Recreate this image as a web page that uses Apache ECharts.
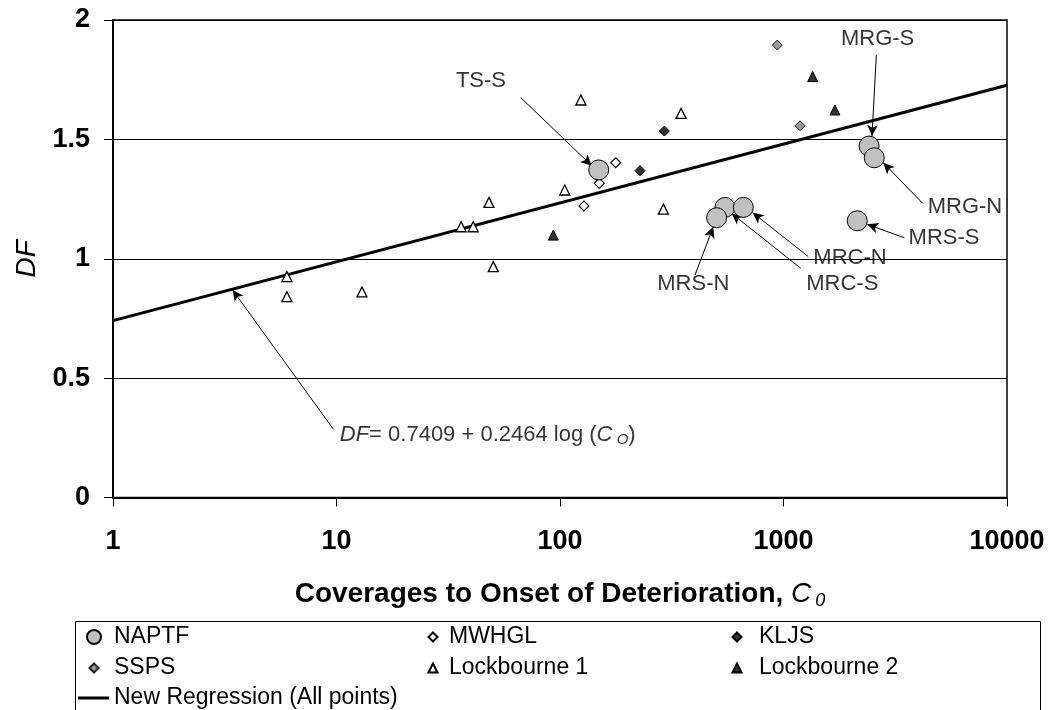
<!DOCTYPE html>
<html><head><meta charset="utf-8">
<script src="https://cdn.jsdelivr.net/npm/echarts@6/dist/echarts.min.js"></script>
<style>html,body{margin:0;padding:0;background:#fff}#c{width:1052px;height:710px}</style>
</head><body><div id="c"></div>
<script>
const FONT = '"Liberation Sans", Arial, Helvetica, sans-serif';

// ---- data ----
const xTicks = [1, 10, 100, 1000, 10000];
const yTicks = [0, 0.5, 1, 1.5, 2];

const naptfX = [149, 2415, 2547, 2138, 547, 661, 502];
const naptfY = [1.372, 1.472, 1.423, 1.159, 1.215, 1.215, 1.172];

const mwhglX = [177.5, 149.9, 128];
const mwhglY = [1.402, 1.316, 1.221];

const kljsX = [293, 228];
const kljsY = [1.535, 1.369];

const sspsX = [938, 1186];
const sspsY = [1.895, 1.557];

const lock1X = [6, 6, 13, 36.1, 40.9, 48.1, 50.3, 105, 124, 348, 290];
const lock1Y = [0.925, 0.841, 0.861, 1.134, 1.134, 1.236, 0.967, 1.288, 1.665, 1.609, 1.208];

const lock2X = [93.3, 1351, 1698];
const lock2Y = [1.099, 1.763, 1.623];

const regX = [1, 10000];
const regY = [0.7409, 1.7265];

// annotations (data coordinates)
const annoLabels = ['TS-S', 'MRG-S', 'MRG-N', 'MRS-S', 'MRC-N', 'MRC-S', 'MRS-N'];
const annoTextX = [44.3, 2637, 6486, 5228, 1984, 1832, 395];
const annoTextY = [1.745, 1.920, 1.216, 1.086, 1.002, 0.894, 0.894];
const arrowFromX = [66.7, 2602, 4198, 3471, 1291, 1194, 402, 9.68];
const arrowFromY = [1.675, 1.853, 1.232, 1.088, 1.009, 0.960, 0.932, 0.286];
const arrowToX = [138.6, 2489, 2796, 2371, 728, 586, 485, 3.43];
const arrowToY = [1.390, 1.514, 1.402, 1.144, 1.193, 1.190, 1.134, 0.869];
const eqX = [10.29];
const eqY = [0.262];

const zip = (a, b) => a.map((v, i) => [v, b[i]]);

const chart = echarts.init(document.getElementById('c'), null, {renderer: 'canvas'});

function lg(name, left, rowY, w, h, padLeft, icon) {
  const item = icon ? {name: name, icon: icon} : name;
  return {
    data: [item], left: left, top: rowY - 12, padding: 0,
    itemWidth: w, itemHeight: h, selectedMode: false,
    textStyle: {fontFamily: FONT, fontSize: 23, color: '#000', lineHeight: 24, padding: [0, 0, 0, padLeft]}
  };
}

const option = {
  animation: false,
  backgroundColor: '#fff',
  grid: {left: 113, right: 45, top: 20, bottom: 212.5, show: true, borderColor: '#000', borderWidth: 1.5, backgroundColor: 'transparent'},
  xAxis: {
    type: 'log', logBase: 10, min: xTicks[0], max: xTicks[xTicks.length - 1],
    axisLine: {show: true, lineStyle: {color: '#000', width: 2}},
    axisTick: {show: true, length: 9, lineStyle: {color: '#000', width: 1}},
    splitLine: {show: false},
    minorTick: {show: false},
    axisLabel: {fontFamily: FONT, fontSize: 27, fontWeight: 'bold', color: '#000', margin: 31,
      formatter: v => String(Math.round(v))},
    name: '{b|Coverages to Onset of Deterioration, }{c|C}{s|0}',
    nameLocation: 'middle', nameGap: 82,
    nameTextStyle: {
      rich: {
        b: {fontFamily: FONT, fontSize: 28, fontWeight: 'bold', color: '#000'},
        c: {fontFamily: FONT, fontSize: 28, fontStyle: 'italic', color: '#000'},
        s: {fontFamily: FONT, fontSize: 18, fontStyle: 'italic', color: '#000', padding: [12, 0, 0, 4]}
      }
    }
  },
  yAxis: {
    type: 'value', min: yTicks[0], max: yTicks[yTicks.length - 1], interval: 0.5,
    axisLine: {show: true, lineStyle: {color: '#000', width: 2}},
    axisTick: {show: true, length: 9, lineStyle: {color: '#000', width: 1}},
    splitLine: {show: true, lineStyle: {color: '#000', width: 1}},
    axisLabel: {fontFamily: FONT, fontSize: 27, fontWeight: 'bold', color: '#000', margin: 23},
    name: 'DF', nameLocation: 'middle', nameGap: 72,
    nameTextStyle: {fontFamily: FONT, fontSize: 28, fontStyle: 'italic', color: '#000'}
  },
  legend: [
    lg('NAPTF', 86, 637, 14, 14, 8),
    lg('SSPS', 88.5, 668, 9, 9, 10.5),
    lg('New Regression (All points)', 78, 698, 31, 3, 0, 'rect'),
    lg('MWHGL', 427.5, 637, 9, 9, 6.5),
    lg('Lockbourne 1', 427.5, 668, 9, 9, 6.5),
    lg('KLJS', 731.5, 637, 9, 9, 12.5),
    lg('Lockbourne 2', 731.5, 668, 9, 9, 12.5)
  ],
  graphic: [{
    type: 'rect', left: 73, top: 619, silent: true,
    shape: {width: 965, height: 140},
    style: {fill: 'none', stroke: '#000', lineWidth: 1}
  }],
  series: [
    {name: 'New Regression (All points)', type: 'line', data: zip(regX, regY), symbol: 'none', showSymbol: false,
      lineStyle: {color: '#000', width: 3}, itemStyle: {color: '#000'}, z: 2, silent: true},
    {name: 'NAPTF', type: 'scatter', data: zip(naptfX, naptfY), symbol: 'circle', symbolSize: 20,
      itemStyle: {color: '#c0c0c0', borderColor: '#000', borderWidth: 1, opacity: 1}, z: 5},
    {name: 'MWHGL', type: 'scatter', data: zip(mwhglX, mwhglY), symbol: 'diamond', symbolSize: 10,
      itemStyle: {color: '#fff', borderColor: '#000', borderWidth: 1.2, opacity: 1}, z: 4},
    {name: 'KLJS', type: 'scatter', data: zip(kljsX, kljsY), symbol: 'diamond', symbolSize: 10,
      itemStyle: {color: '#333', borderColor: '#000', borderWidth: 1, opacity: 1}, z: 4},
    {name: 'SSPS', type: 'scatter', data: zip(sspsX, sspsY), symbol: 'diamond', symbolSize: 10,
      itemStyle: {color: '#999', borderColor: '#222', borderWidth: 1, opacity: 1}, z: 4},
    {name: 'Lockbourne 1', type: 'scatter', data: zip(lock1X, lock1Y), symbol: 'triangle', symbolSize: 10,
      itemStyle: {color: '#fff', borderColor: '#000', borderWidth: 1.3, opacity: 1}, z: 4},
    {name: 'Lockbourne 2', type: 'scatter', data: zip(lock2X, lock2Y), symbol: 'triangle', symbolSize: 10,
      itemStyle: {color: '#333', borderColor: '#000', borderWidth: 1, opacity: 1}, z: 4},
    {name: 'arrows', type: 'scatter', data: [], silent: true, z: 6,
      markLine: {
        silent: true, animation: false,
        symbol: ['none', 'arrow'], symbolSize: 10,
        lineStyle: {color: '#000', width: 1, type: 'solid', opacity: 1},
        itemStyle: {color: '#000'},
        label: {show: false},
        emphasis: {disabled: true},
        data: arrowFromX.map((v, i) => [
          {coord: [v, arrowFromY[i]], symbol: 'none'},
          {coord: [arrowToX[i], arrowToY[i]], symbol: 'arrow', symbolSize: [8, 11]}
        ])
      }},
    {name: 'labels', type: 'scatter', silent: true, z: 7,
      data: annoTextX.map((v, i) => [v, annoTextY[i], annoLabels[i]]),
      symbolSize: 1, itemStyle: {color: 'rgba(0,0,0,0)'},
      label: {show: true, position: 'inside', formatter: p => p.data[2],
        fontFamily: FONT, fontSize: 22, color: '#000'}},
    {name: 'equation', type: 'scatter', silent: true, z: 7,
      data: zip(eqX, eqY), symbolSize: 1, itemStyle: {color: 'rgba(0,0,0,0)'},
      label: {show: true, position: 'right', distance: 0, align: 'left',
        formatter: '{i|DF}{n|= 0.7409 + 0.2464 log (}{i|C}{s| O}{n|)}',
        rich: {
          i: {fontFamily: FONT, fontSize: 22, fontStyle: 'italic', color: '#000'},
          n: {fontFamily: FONT, fontSize: 22, color: '#000'},
          s: {fontFamily: FONT, fontSize: 15, fontStyle: 'italic', color: '#000', padding: [9, 0, 0, 0]}
        }}}
  ]
};
chart.setOption(option);
</script>
</body></html>
